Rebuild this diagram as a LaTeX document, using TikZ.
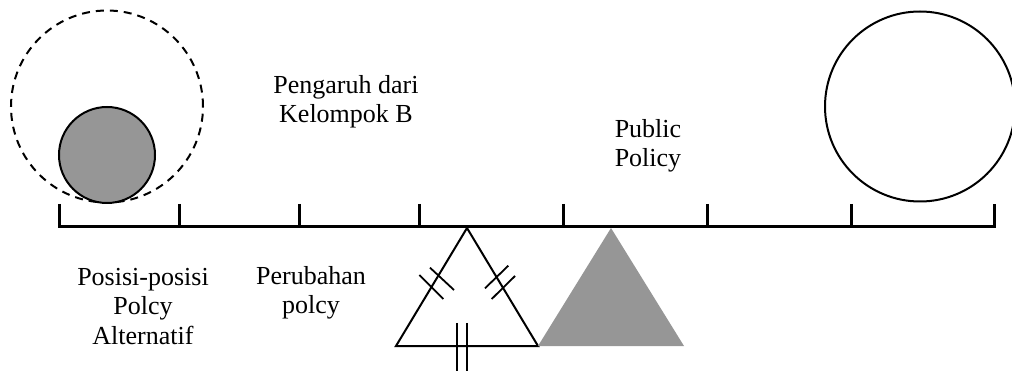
\documentclass[tikz,border=0pt]{standalone}
\usepackage{fontspec}
\setmainfont{Liberation Serif}
\begin{document}
\begin{tikzpicture}[x=1pt,y=-1pt,
  beam/.style={line width=3pt},
  outline/.style={line width=2pt},
  hatch/.style={line width=1.8pt},
  shade/.style={fill=black!41},
  label/.style={align=center,font=\fontsize{26}{29.5}\selectfont,inner sep=0pt,anchor=base}]
\useasboundingbox (0,0) rectangle (1012,371);
\clip (0,0) rectangle (1012,371);

% circles above the beam
\node[circle,draw,dashed,outline,dash pattern=on 8pt off 6pt,minimum size=192pt,inner sep=0pt] (halo) at (107,106.5) {};
\node[circle,draw,outline,shade,minimum size=96pt,inner sep=0pt] (ball) at (107,155) {};
\node[circle,draw,outline,minimum size=190pt,inner sep=0pt] (big) at (920,106.5) {};

% the beam with its scale marks
\foreach \n/\x in {0/59.5,1/179,2/299,3/419,4/563,5/707,6/851,7/994}{
  \coordinate (b\n) at (\x,227);
  \coordinate (t\n) at (\x,204);
}
\draw[beam,line join=miter] (t0) -- (b0) -- (b7) -- (t7);
\foreach \n in {1,...,6}{\draw[beam] (t\n) -- (b\n);}

% open fulcrum with its hash marks
\coordinate (fa) at (467,228);
\coordinate (fl) at (396,346);
\coordinate (fr) at (538,346);
\draw[outline,line join=miter] (fa) -- (fl) -- (fr) -- cycle;
\coordinate (h1a) at (419.3,275); \coordinate (h1b) at (443.3,299);
\coordinate (h2a) at (430,267.7); \coordinate (h2b) at (454,290);
\coordinate (h3a) at (485,288.3); \coordinate (h3b) at (508.3,265.7);
\coordinate (h4a) at (491.7,299); \coordinate (h4b) at (515,276);
\coordinate (h5a) at (457.3,323); \coordinate (h5b) at (457.3,372);
\coordinate (h6a) at (467.3,323); \coordinate (h6b) at (467.3,372);
\foreach \k in {1,...,6}{\draw[hatch] (h\k a) -- (h\k b);}

% shaded fulcrum
\coordinate (ga) at (611,228);
\coordinate (gl) at (538,346);
\coordinate (gr) at (684,346);
\fill[black!41] (ga) -- (gl) -- (gr) -- cycle;

% labels (anchored at the baseline of their last line)
\node[label] (pengaruh) at (346,123) {Pengaruh dari\\Kelompok B};
\node[label] (public) at (648,167) {Public\\Policy};
\node[label] (posisi) at (143,344.5) {Posisi-posisi\\Polcy\\Alternatif};
\node[label] (perubahan) at (311,314) {Perubahan\\polcy};
\end{tikzpicture}
\end{document}
